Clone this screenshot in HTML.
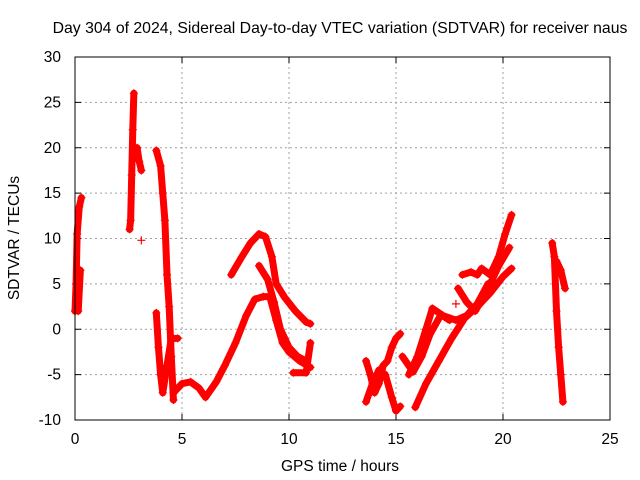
<!DOCTYPE html>
<html><head><meta charset="utf-8"><style>
body{margin:0;background:#fff}
svg{display:block;font-family:"Liberation Sans",sans-serif}
</style></head><body>
<svg id="chart" width="640" height="480">
<rect width="640" height="480" fill="#fff"/>
<text x="340" y="33" font-size="15.8" text-anchor="middle">Day 304 of 2024, Sidereal Day-to-day VTEC variation (SDTVAR) for receiver naus</text>
<text x="340" y="471" font-size="15.5" text-anchor="middle">GPS time / hours</text>
<text transform="translate(19,238) rotate(-90)" font-size="15.5" text-anchor="middle">SDTVAR / TECUs</text>
<g id="grid"></g><g id="ticks"></g><g id="series"></g>
<rect x="75" y="57" width="535" height="363" fill="none" stroke="#000" stroke-width="1"/>
</svg>
<script>
const xTicks=[0,5,10,15,20,25];
const yTicks=[-10,-5,0,5,10,15,20,25,30];
const traceA=[[0,2],[0.05,5],[0.1,10.5],[0.2,13.5],[0.3,14.5]];
const traceA2=[[0.15,2],[0.25,6.5]];
const traceB=[[2.55,11],[2.6,12],[2.65,17],[2.7,22],[2.75,26]];
const traceB2=[[2.9,20],[3.0,18.5],[3.1,17.5]];
const traceB3=[[3.1,9.8]];
const traceC=[[3.8,19.7],[4.0,18],[4.1,15],[4.2,12],[4.3,6],[4.4,2.5],[4.5,-3],[4.6,-7.8]];
const traceC2=[[3.8,1.8],[3.9,-2],[4.0,-5],[4.1,-7],[4.3,-4],[4.5,-1],[4.8,-1]];
const traceD=[[4.6,-7],[5,-6],[5.4,-5.8],[5.8,-6.5],[6.1,-7.5],[6.6,-5.8],[7,-4],[7.5,-1.5],[8,1.5],[8.4,3.3],[8.8,3.6],[9.1,3.6],[9.4,1],[9.7,-1.5],[10,-2.5],[10.5,-3.5],[11,-4.2]];
const traceE=[[7.3,6],[7.8,8],[8.2,9.5],[8.6,10.5],[8.9,10.2],[9.2,8],[9.4,5],[9.8,3.5],[10.3,2],[10.8,0.8],[11,0.6]];
const traceF=[[8.6,7],[9,5.5],[9.3,3],[9.6,0],[10,-2],[10.4,-3],[10.8,-3.5]];
const traceF2=[[10.2,-4.8],[10.8,-4.8],[11,-1.5]];
const traceG=[[13.6,-3.5],[13.8,-5],[14,-7],[14.2,-6],[14.4,-4],[14.6,-3.5],[14.8,-2],[15,-1],[15.2,-0.5]];
const traceG2=[[13.6,-8],[13.9,-6],[14.2,-4.5],[14.5,-5],[14.8,-7.5],[15,-9],[15.2,-8.5]];
const traceH=[[15.9,-8.6],[16.4,-6],[17,-3.5],[17.6,-1],[18.2,1.2],[18.8,2.5],[19.4,4],[20,5.8],[20.4,6.7]];
const traceH2=[[17.9,4.5],[18.3,3],[18.7,2],[19.2,4],[19.8,7],[20.3,9]];
const traceH3=[[15.6,-5],[16,-3],[16.4,0],[16.7,2.3],[17.2,1.5],[17.8,1],[18.3,1.5],[18.8,2.8],[19.3,5]];
const traceH4=[[18.1,6],[18.5,6.3],[18.8,6],[19,6.7],[19.4,6],[19.8,8],[20.1,10.5],[20.4,12.6]];
const traceH5=[[15.3,-3],[15.8,-4.7],[16.2,-3],[16.6,-0.5],[17.1,1.6],[17.5,1]];
const traceH6=[[17.8,2.8]];
const traceI=[[22.3,9.5],[22.4,8],[22.5,2],[22.6,-2],[22.7,-5],[22.8,-8]];
const traceI2=[[22.5,7.5],[22.7,6.5],[22.9,4.5]];
const traces=[traceA,traceA2,traceB,traceB2,traceB3,traceC,traceC2,traceD,traceE,traceF,traceF2,traceG,traceG2,traceH,traceH2,traceH3,traceH4,traceH5,traceH6,traceI,traceI2];

const NS='http://www.w3.org/2000/svg';
const X0=75,X1=610,Y0=420,Y1=57;
function sx(t){return X0+(t-0)/(25-0)*(X1-X0);}
function sy(v){return Y0-(v-(-10))/(30-(-10))*(Y0-Y1);}
function mk(tag,attrs,parent){const e=document.createElementNS(NS,tag);for(const k in attrs)e.setAttribute(k,attrs[k]);parent.appendChild(e);return e;}
const grid=document.getElementById('grid'),ticks=document.getElementById('ticks'),ser=document.getElementById('series');
xTicks.forEach(t=>{
  const x=sx(t);
  if(t>0&&t<25){const g=mk('line',{x1:x,x2:x,y1:Y1,y2:Y0,stroke:'#a0a0a0','stroke-dasharray':'2,3'},grid);
  
  }
  mk('line',{x1:x,x2:x,y1:Y0,y2:Y0-6,stroke:'#000'},ticks);
  mk('line',{x1:x,x2:x,y1:Y1,y2:Y1+6,stroke:'#000'},ticks);
  const l=mk('text',{x:x,y:444,'font-size':15.5,'text-anchor':'middle'},ticks);l.textContent=t;
  
  
});
yTicks.forEach(v=>{
  const y=sy(v);
  if(v>-10&&v<30){const g=mk('line',{x1:X0,x2:X1,y1:y,y2:y,stroke:'#a0a0a0','stroke-dasharray':'2,3'},grid);
  
  }
  mk('line',{x1:X0,x2:X0+6,y1:y,y2:y,stroke:'#000'},ticks);
  mk('line',{x1:X1,x2:X1-6,y1:y,y2:y,stroke:'#000'},ticks);
  const l=mk('text',{x:61,y:y+5,'font-size':15.5,'text-anchor':'end'},ticks);l.textContent=v;
  
  
});
traces.forEach((tr,i)=>{
  const g=mk('g',{},ser);
  
  
  if(tr.length>1){
    const p=mk('polyline',{points:tr.map(d=>sx(d[0])+','+sy(d[1])).join(' '),fill:'none',stroke:'#ff0000','stroke-width':7,'stroke-linejoin':'round','stroke-linecap':'round'},g);
    
    
  }
  tr.forEach(d=>{
    const x=sx(d[0]),y=sy(d[1]);
    const m=mk('path',{d:`M${x-4},${y}H${x+4}M${x},${y-4}V${y+4}`,stroke:'#ff0000','stroke-width':1.2},g);
    
    
  });
});
</script>
</body></html>
